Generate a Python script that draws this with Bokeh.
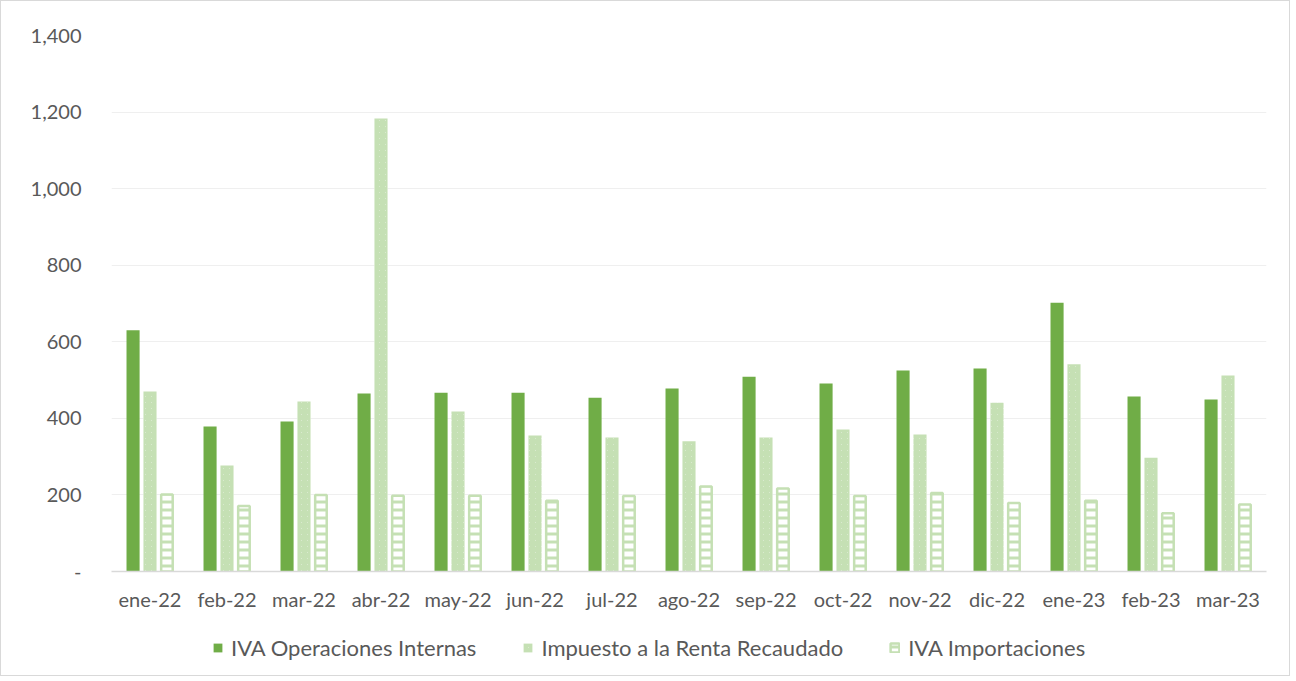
from bokeh.plotting import figure
from bokeh.layouts import column
from bokeh.models import ColumnDataSource, FactorRange, Legend, LegendItem, FixedTicker, NumeralTickFormatter, Range1d
from bokeh.transform import dodge
from bokeh.embed import file_html
from bokeh.resources import INLINE

months = ["ene-22", "feb-22", "mar-22", "abr-22", "may-22", "jun-22", "jul-22",
          "ago-22", "sep-22", "oct-22", "nov-22", "dic-22", "ene-23", "feb-23", "mar-23"]
iva_internas = [630, 379, 392, 465, 467, 467, 454, 478, 509, 491, 525, 530, 702, 457, 449]
renta = [470, 277, 444, 1183, 418, 355, 350, 340, 350, 371, 358, 441, 541, 297, 512]
iva_import = [201, 171, 200, 198, 198, 185, 197, 222, 217, 197, 205, 179, 185, 152, 175]
y_ticks = [0, 200, 400, 600, 800, 1000, 1200, 1400]
series_names = ["IVA Operaciones Internas", "Impuesto a la Renta Recaudado", "IVA Importaciones"]

src = ColumnDataSource(dict(month=months, a=iva_internas, b=renta, c=iva_import))

FONT = "Lato"
TXT = "#595959"
GREEN = "#70AD47"
LIGHT = "#C5E0B4"

styles = [
    dict(fill_color=GREEN, line_color=None),
    dict(fill_color="white", line_color=None, hatch_pattern="\\", hatch_color=LIGHT,
         hatch_scale=6, hatch_weight=3),
    dict(fill_color="white", line_color=LIGHT, line_width=2.5, hatch_pattern="-",
         hatch_color=LIGHT, hatch_scale=8, hatch_weight=3),
]
cols = ["a", "b", "c"]
offsets = [-0.22, 0.0, 0.22]
widths = [0.17, 0.17, 0.15]

p = figure(x_range=FactorRange(*months), y_range=Range1d(0, 1400),
           frame_width=1155, frame_height=536, output_backend="svg", toolbar_location=None,
           min_border_left=110, min_border_right=23, min_border_top=34, min_border_bottom=44)
p.outline_line_color = None

for c, off, wd, st in zip(cols, offsets, widths, styles):
    p.vbar(x=dodge("month", off, range=p.x_range), top=c, width=wd, source=src, **st)

p.xgrid.grid_line_color = None
p.ygrid.grid_line_color = "#efefef"
p.ygrid.grid_line_width = 1

p.yaxis.ticker = FixedTicker(ticks=y_ticks)
p.yaxis.formatter = NumeralTickFormatter(format="0,0")
p.yaxis.major_label_overrides = {0: "-"}
p.yaxis.axis_line_color = None
p.yaxis.major_tick_line_color = None
p.yaxis.minor_tick_line_color = None
p.yaxis.major_label_standoff = 24

p.xaxis.axis_line_color = "#d9d9d9"
p.xaxis.axis_line_width = 1.5
p.xaxis.major_tick_line_color = None
p.xaxis.minor_tick_line_color = None
p.xaxis.major_label_standoff = 9

for ax in (p.xaxis[0], p.yaxis[0]):
    ax.major_label_text_font = FONT
    ax.major_label_text_color = TXT
    ax.major_label_text_font_size = "20px"

# legend strip below the chart (hidden proxy renderers)
q = figure(width=1288, height=60, x_range=p.x_range, y_range=Range1d(5000, 5001),
           output_backend="svg", toolbar_location=None,
           min_border=0, min_border_left=0, min_border_right=0, min_border_top=0, min_border_bottom=0)
q.axis.visible = False
q.grid.visible = False
q.outline_line_color = None
items = []
for name, c, off, wd, st in zip(series_names, cols, offsets, widths, styles):
    r = q.vbar(x=dodge("month", off, range=q.x_range), top=c, width=wd, source=src, **st)
    r.visible = False
    items.append(LegendItem(label=name, renderers=[r]))

legend = Legend(items=items, orientation="horizontal", location=(101, 14))
legend.label_text_font = FONT
legend.label_text_color = TXT
legend.label_text_font_size = "22px"
legend.glyph_width = 11
legend.glyph_height = 11
legend.label_standoff = 8
legend.spacing = 46
legend.padding = 5
legend.margin = 0
legend.border_line_color = None
legend.background_fill_alpha = 0
legend.inactive_fill_alpha = 0
legend.click_policy = "none"
q.add_layout(legend)

layout = column(p, q, spacing=0, styles={"border": "1px solid #d9d9d9"})

open("out.html", "w").write(file_html(layout, INLINE))
